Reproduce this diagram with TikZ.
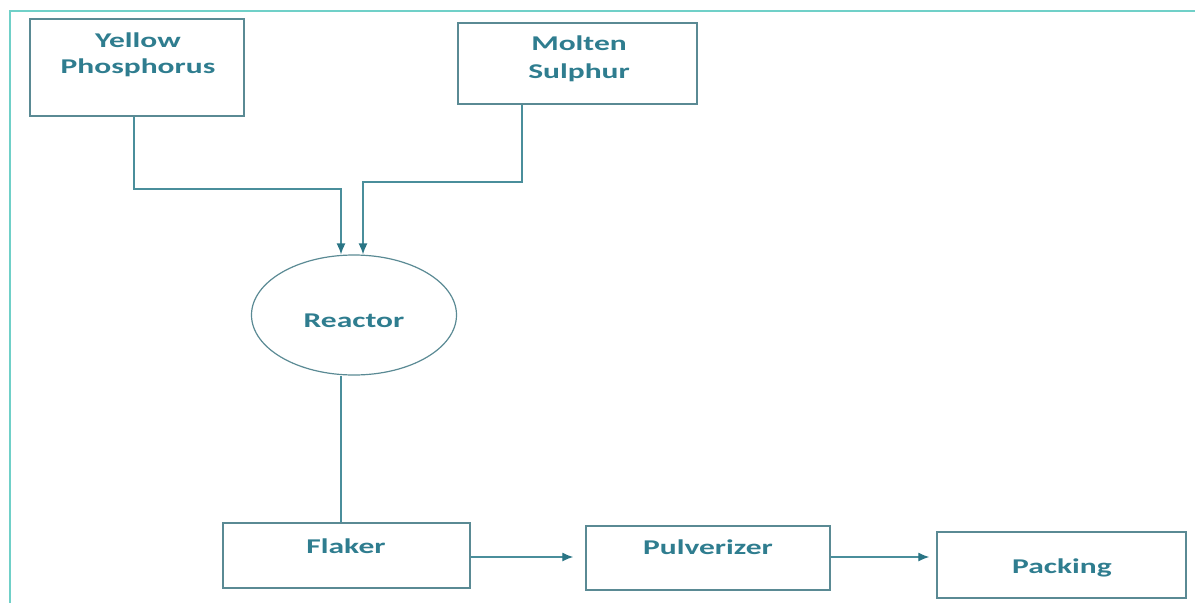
\documentclass[tikz,border=0pt]{standalone}
\usepackage{fontspec}
\setmainfont{Carlito}[FakeStretch=1.5]
\usetikzlibrary{arrows.meta,shapes.geometric}
\definecolor{txt}{HTML}{2F7D8F}
\definecolor{boxc}{HTML}{5A8A94}
\definecolor{linec}{HTML}{4A8E9B}
\definecolor{tipc}{HTML}{2A7585}
\definecolor{framec}{HTML}{70D0C8}
\begin{document}
\begin{tikzpicture}[x=1pt,y=-1pt,
  procbox/.style={draw=boxc,line width=1.4pt,minimum width=#1,inner sep=0pt},
  lbl/.style={text=txt,font=\fontsize{21}{27}\selectfont\bfseries,align=center,anchor=base,inner sep=0pt},
  conn/.style={draw=linec,line width=1.3pt},
  arr/.style={conn,-{Latex[length=11pt,width=9pt,color=tipc]}}]
\useasboundingbox (0,0) rectangle (1195,603);
% frame
\draw[framec,line width=2.2pt] (1195,11) -- (10,11) -- (10,603);
% boxes
\node[procbox=214pt,minimum height=97pt] (yp) at (137,67.5) {};
\node[procbox=239pt,minimum height=81pt] (ms) at (577.5,63.5) {};
\node[draw=boxc,line width=1.2pt,ellipse,minimum width=205pt,minimum height=120pt,inner sep=0pt] (reactor) at (354,315) {};
\node[procbox=247pt,minimum height=65pt] (flaker) at (346.5,555.5) {};
\node[procbox=244pt,minimum height=64pt] (pulv) at (708,558) {};
\node[procbox=249pt,minimum height=66pt] (pack) at (1061.5,565) {};
% labels (base = last line's baseline)
\node[lbl,font=\fontsize{21}{26}\selectfont\bfseries] (ypt) at (138,73) {Yellow\\Phosphorus};
\node[lbl,font=\fontsize{21}{28}\selectfont\bfseries] (mst) at (579,78) {Molten\\Sulphur};
\node[lbl] (rt) at (354,327) {Reactor};
\node[lbl] (ft) at (346,553) {Flaker};
\node[lbl] (pt) at (708,554) {Pulverizer};
\node[lbl] (kt) at (1062,573) {Packing};
% connectors
\coordinate (ypj) at (134,189);
\coordinate (msj) at (522,182);
\coordinate (rin1) at ([xshift=-13pt]reactor.north);
\coordinate (rin2) at ([xshift=9pt]reactor.north);
\coordinate (rout) at ([xshift=-13pt]reactor.south);
\coordinate (fp) at (470,557);
\coordinate (pp) at (830,557);
\coordinate (pe) at ([xshift=-12pt]pulv.west);
\coordinate (ke) at ([xshift=-7pt]pack.west);
\draw[arr] (yp.south -| ypj) -- (ypj) -| (rin1);
\draw[arr] (ms.south -| msj) -- (msj) -| (rin2);
\draw[conn] (rout) -- (rout |- flaker.north);
\draw[arr] (flaker.east |- fp) -- (fp -| pe);
\draw[arr] (pulv.east |- pp) -- (pp -| ke);
\end{tikzpicture}
\end{document}
